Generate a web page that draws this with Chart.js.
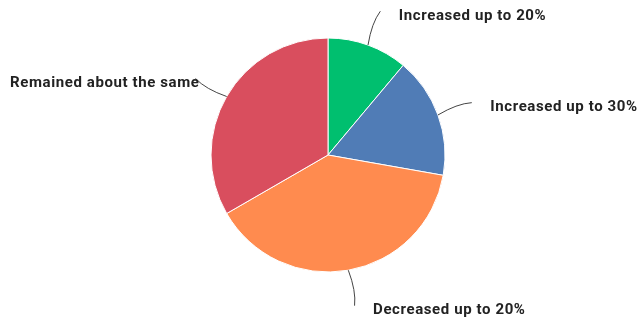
<!DOCTYPE html>
<html>
<head>
<meta charset="utf-8">
<script src="https://cdn.jsdelivr.net/npm/chart.js@4/dist/chart.umd.min.js"></script>
<style>
  html, body { margin: 0; padding: 0; background: #fff; }
  #wrap { width: 638px; height: 322px; position: relative; }
</style>
</head>
<body>
<div id="wrap"><canvas id="pie"></canvas></div>
<script>
/* ── Data ── */
const categories = ['Increased up to 20%', 'Increased up to 30%', 'Decreased up to 20%', 'Remained about the same'];
const responses = [20, 30, 70, 60];
const sliceColors = ['#00bf6f', '#507cb6', '#ff8b4f', '#d94e5e'];

/* ── Leader-line labels ── */
const leaderLabels = {
  id: 'leaderLabels',
  afterDatasetsDraw(chart) {
    const ctx = chart.ctx;
    const arcs = chart.getDatasetMeta(0).data;
    ctx.save();
    ctx.font = 'bold 15px Roboto, "Liberation Sans", sans-serif';
    ctx.letterSpacing = '0.6px';
    ctx.fillStyle = '#222';
    ctx.strokeStyle = '#444';
    ctx.lineWidth = 1;
    ctx.textBaseline = 'middle';
    arcs.forEach((arc, i) => {
      const { x, y, startAngle, endAngle, outerRadius } = arc.getProps(['x', 'y', 'startAngle', 'endAngle', 'outerRadius'], true);
      const mid = (startAngle + endAngle) / 2;
      const pt = (r, a) => ({ x: x + Math.cos(a) * r, y: y + Math.sin(a) * r });
      const p0 = pt(outerRadius, mid);
      const c = pt(outerRadius + 22, mid - 0.03);
      const p1 = pt(outerRadius + 36, mid);
      ctx.beginPath();
      ctx.moveTo(p0.x, p0.y);
      ctx.quadraticCurveTo(c.x, c.y, p1.x, p1.y);
      ctx.stroke();
      const right = Math.cos(mid) >= 0;
      ctx.textAlign = right ? 'left' : 'right';
      ctx.fillText(categories[i], right ? p1.x + 18.5 : p1.x + 4, p1.y + 5);
    });
    ctx.restore();
  }
};

new Chart(document.getElementById('pie'), {
  type: 'pie',
  data: {
    labels: categories,
    datasets: [{
      data: responses,
      backgroundColor: sliceColors,
      borderColor: '#fff',
      borderWidth: 1,
      radius: 117,
    }]
  },
  options: {
    responsive: true,
    maintainAspectRatio: false,
    animation: false,
    layout: { padding: { top: 38, bottom: 50, left: 100, right: 82 } },
    plugins: {
      legend: { display: false },
      tooltip: { enabled: false }
    }
  },
  plugins: [leaderLabels]
});
</script>
</body>
</html>
